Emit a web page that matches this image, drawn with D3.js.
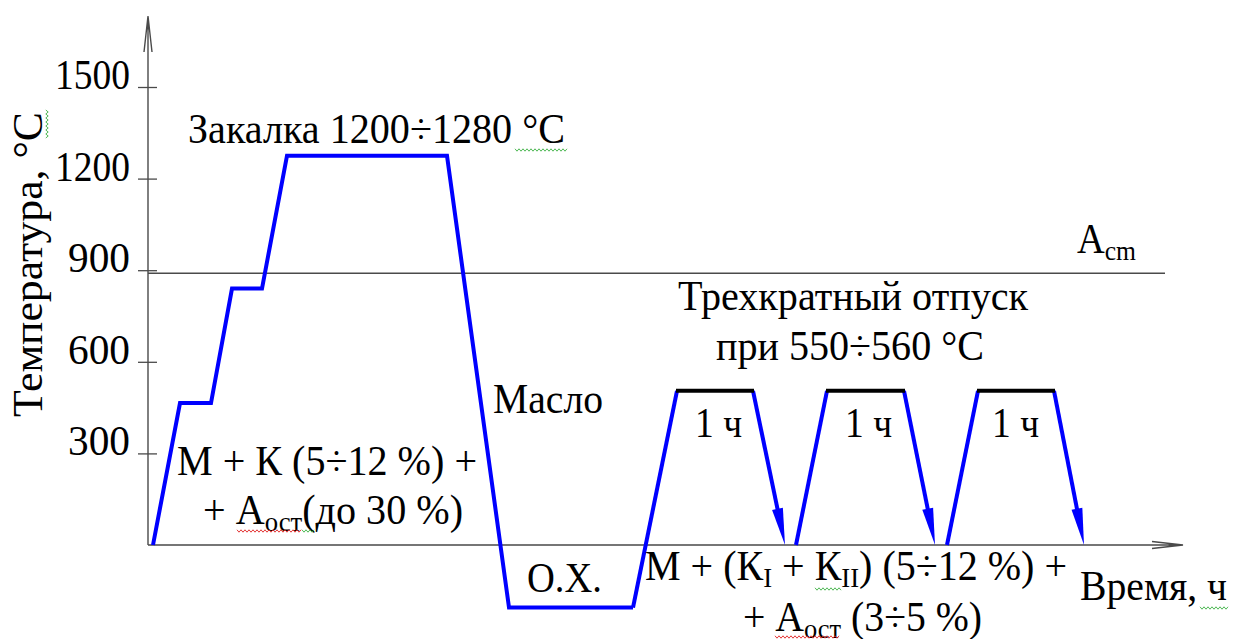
<!DOCTYPE html>
<html>
<head>
<meta charset="utf-8">
<script src="https://cdnjs.cloudflare.com/ajax/libs/d3/7.8.5/d3.min.js"></script>
<style>
	body { margin: 0; background: #fff; }
</style>
</head>
<body>
<div id="chart"></div>
<script>

// Temperature ticks, °C
var tempTicks = [300, 600, 900, 1200, 1500];

// Hardening: heating with two preheats, hold, oil quench, cold treatment
var quenchTime = [0.5, 3.2, 6.3, 8.4, 11.4, 13.9, 29.9, 36.1, 48.5];
var quenchTemp = [0, 465, 465, 840, 840, 1275, 1275, -205, -205];

// Triple tempering cycles (time in arbitrary units)
var temperTemp = 505;
var cycleRiseStart = [48.5, 64.8, 79.9];
var cycleRiseTemp = [-205, 0, 0];
var cycleHoldStart = [52.9, 67.9, 83.0];
var cycleHoldEnd = [60.5, 75.6, 90.6];
var cycleCoolEnd = [63.7, 78.7, 93.6];

// Acm line
var acmTemp = 890;

function chart() {
	var w = 1234;
	var h = 639;
	var serif = "'Liberation Serif'";

	var svg = d3.select("#chart")
		.append("svg")
		.attr("width", w)
		.attr("height", h);

	//Scales
	var x = d3.scaleLinear()
		.domain([0, 103.5])
		.range([148, 1183]);

	var y = d3.scaleLinear()
		.domain([0, 1500])
		.range([545, 87]);

	var axisColor = "#4a4a4a";

	//Acm line
	svg.append("line")
		.attr("x1", x(0)).attr("x2", 1165)
		.attr("y1", y(acmTemp)).attr("y2", y(acmTemp))
		.style("stroke", axisColor)
		.style("stroke-width", 1.4);

	//Y axis with ticks crossing the line
	var yAxis = d3.axisLeft(y)
		.tickValues(tempTicks)
		.tickSize(10)
		.tickFormat("");

	var gy = svg.append("g")
		.attr("transform", "translate(" + x(0) + ",0)")
		.call(yAxis);
	gy.select(".domain").remove();
	gy.selectAll(".tick line")
		.attr("x1", 9)
		.style("stroke", axisColor)
		.style("stroke-width", 1.3);

	//axis lines with open arrowheads
	var topY = 16;
	svg.append("path")
		.attr("d", "M" + x(0) + "," + y(0) + "V" + topY +
			"M" + (x(0) - 4) + "," + (topY + 36) + "L" + x(0) + "," + topY + "L" + (x(0) + 4) + "," + (topY + 36))
		.style("fill", "none")
		.style("stroke", axisColor)
		.style("stroke-width", 1.4);

	var rightX = x.range()[1];
	svg.append("path")
		.attr("d", "M" + x(0) + "," + y(0) + "H" + rightX +
			"M" + (rightX - 31) + "," + (y(0) - 3.5) + "L" + rightX + "," + y(0) + "L" + (rightX - 31) + "," + (y(0) + 3.5))
		.style("fill", "none")
		.style("stroke", axisColor)
		.style("stroke-width", 1.4);

	var blue = "#0000ff";
	var line = d3.line()
		.x(function (d) { return x(d[0]); })
		.y(function (d) { return y(d[1]); });

	//Quench curve
	svg.append("path")
		.datum(d3.zip(quenchTime, quenchTemp))
		.attr("d", line)
		.style("fill", "none")
		.style("stroke", blue)
		.style("stroke-width", 4)
		.style("stroke-linejoin", "miter");

	//Tempering cycles
	var headLen = 37, headHalf = 5.5;
	cycleHoldStart.forEach(function (t, i) {
		//heating leg
		svg.append("path")
			.datum([[cycleRiseStart[i], cycleRiseTemp[i]], [t, temperTemp]])
			.attr("d", line)
			.style("fill", "none")
			.style("stroke", blue)
			.style("stroke-width", 4);

		//cooling leg ending in a filled arrow
		var x0 = x(cycleHoldEnd[i]), y0 = y(temperTemp);
		var x1 = x(cycleCoolEnd[i]), y1 = y(0);
		var len = Math.sqrt((x1 - x0) * (x1 - x0) + (y1 - y0) * (y1 - y0));
		var ux = (x1 - x0) / len, uy = (y1 - y0) / len;
		var bx = x1 - ux * headLen, by = y1 - uy * headLen;
		svg.append("line")
			.attr("x1", x0).attr("y1", y0)
			.attr("x2", bx + ux * 4).attr("y2", by + uy * 4)
			.style("stroke", blue)
			.style("stroke-width", 4);
		svg.append("path")
			.attr("d", "M" + (bx - uy * headHalf) + "," + (by + ux * headHalf) +
				"L" + x1 + "," + y1 +
				"L" + (bx + uy * headHalf) + "," + (by - ux * headHalf) + "Z")
			.style("fill", blue);

		//hold, drawn black
		svg.append("line")
			.attr("x1", x(t) - 1).attr("x2", x(cycleHoldEnd[i]) + 1)
			.attr("y1", y(temperTemp)).attr("y2", y(temperTemp))
			.style("stroke", "#000")
			.style("stroke-width", 4);
	});

	//Text helper: parts are [string, "sub"] pairs, fitted to span left..right
	function label(parts, left, right, base) {
		var t = svg.append("text")
			.attr("x", left)
			.attr("y", base)
			.attr("textLength", right - left)
			.attr("lengthAdjust", "spacingAndGlyphs")
			.style("font-family", serif)
			.style("font-size", "42px")
			.style("fill", "#000");
		parts.forEach(function (p) {
			var s = t.append("tspan").text(p[0]);
			if (p[1] === "sub") {
				s.style("font-size", "28px").attr("baseline-shift", "-7");
			}
		});
		return t;
	}

	//Word-style spelling squiggle
	function squiggle(x1, x2, yy, color, vertical) {
		var d = "", k = 0;
		for (var p = x1; p <= x2; p += 2, k++) {
			var off = (k % 2 ? 1.2 : -1.2);
			d += (k ? "L" : "M") + (vertical ? (yy + off) + "," + p : p + "," + (yy + off));
		}
		svg.append("path")
			.attr("d", d)
			.style("fill", "none")
			.style("stroke", color)
			.style("stroke-width", 0.9);
	}

	//tick labels
	tempTicks.forEach(function (v) {
		var wd = v >= 1000 ? 75 : 62;
		label([[String(v)]], 130 - wd, 130, y(v) + 2);
	});

	//y axis title, rotated
	svg.append("text")
		.attr("transform", "translate(42,417) rotate(-90)")
		.attr("textLength", 305)
		.attr("lengthAdjust", "spacingAndGlyphs")
		.style("font-family", serif)
		.style("font-size", "42px")
		.text("Температура, °C");

	label([["Закалка 1200÷1280 °C"]], 188, 565, 143);
	label([["Трехкратный отпуск"]], 678, 1028, 310);
	label([["при 550÷560 °C"]], 716, 984, 360);
	label([["Масло"]], 493, 603, 413);
	label([["О.Х."]], 527, 602, 592);
	label([["1 ч"]], 695, 742, 437);
	label([["1 ч"]], 845, 892, 437);
	label([["1 ч"]], 992, 1039, 437);
	label([["М + К (5÷12 %) +"]], 177, 477, 475);
	label([["+ А"], ["ост", "sub"], ["(до 30 %)"]], 203, 463, 524);
	label([["М + (К"], ["I", "sub"], [" + К"], ["II", "sub"], [") (5÷12 %) +"]], 645, 1067, 580);
	label([["+ А"], ["ост", "sub"], [" (3÷5 %)"]], 743, 982, 631);
	label([["Время, ч"]], 1080, 1227, 600);
	label([["A"], ["cm", "sub"]], 1077, 1136, 253);

	//spell-check marks as seen in the source document
	squiggle(515, 567, 150, "#3cb043");
	squiggle(237, 302, 531, "#e02020");
	squiggle(302, 315, 531, "#3cb043");
	squiggle(775, 840, 637, "#e02020");
	squiggle(815, 842, 589, "#3cb043");
	squiggle(1200, 1228, 608, "#3cb043");
	squiggle(110, 138, 47, "#3cb043", true);
}

chart();
</script>
</body>
</html>
